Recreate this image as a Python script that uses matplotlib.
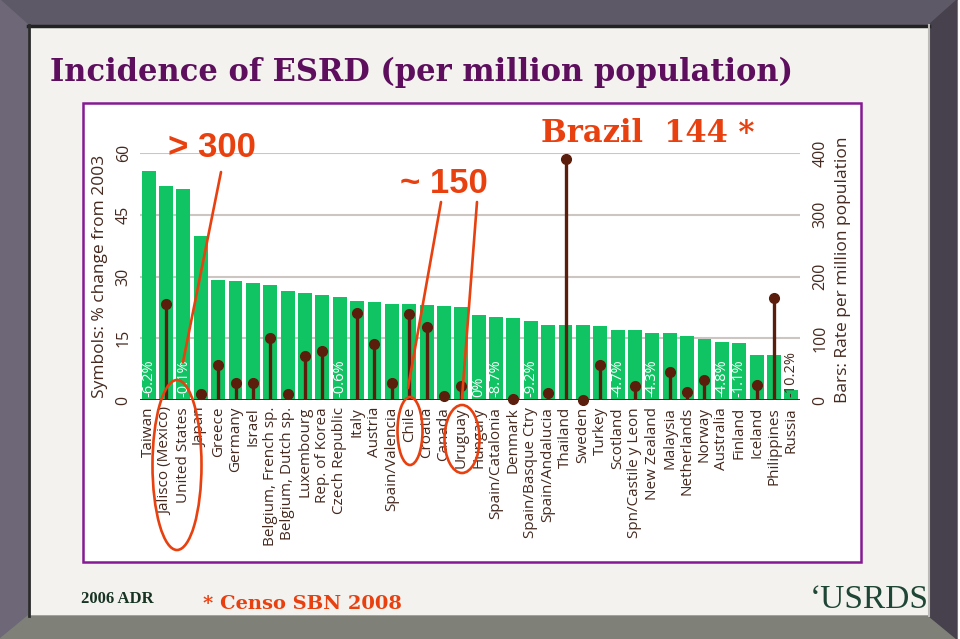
import matplotlib
matplotlib.use("Agg")
import matplotlib.pyplot as plt
from matplotlib.patches import Polygon, Rectangle, Ellipse
import numpy as np

# ---------------- data ----------------
categories = ["Taiwan", "Jalisco (Mexico)", "United States", "Japan", "Greece", "Germany",
              "Israel", "Belgium, French sp.", "Belgium, Dutch sp.", "Luxembourg",
              "Rep. of Korea", "Czech Republic", "Italy", "Austria", "Spain/Valencia",
              "Chile", "Croatia", "Canada", "Uruguay", "Hungary", "Spain/Catalonia",
              "Denmark", "Spain/Basque Ctry", "Spain/Andalucia", "Thailand", "Sweden",
              "Turkey", "Scotland", "Spn/Castile y Leon", "New Zealand", "Malaysia",
              "Netherlands", "Norway", "Australia", "Finland", "Iceland", "Philippines",
              "Russia"]
rate = [371, 346, 342, 265, 194, 193, 190, 186, 176, 173, 170, 166, 160, 158, 156, 156,
        154, 153, 150, 138, 135, 132, 128, 122, 121, 121, 120, 113, 113, 109, 108, 103,
        99, 94, 93, 73, 73, 16]
change = [-6.2, 23.2, -0.1, 1.4, 8.6, 4.1, 4.1, 15.1, 1.5, 10.8, 11.9, -0.6, 21.2, 13.7,
          4.1, 21.0, 17.7, 1.0, 3.4, 0.0, -8.7, 0.2, -9.2, 1.6, 58.6, 0.1, 8.6, -4.7, 3.3,
          -4.3, 6.8, 1.9, 4.9, -4.8, -1.1, 3.6, 24.7, -10.2]
rate_ticks = [0, 100, 200, 300, 400]
change_ticks = [0, 15, 30, 45, 60]

title = "Incidence of ESRD (per million population)"
left_label = "Symbols: % change from 2003"
right_label = "Bars: Rate per million population"

# ---------------- style ----------------
GREEN = "#10c464"
BROWN = "#5b1e0c"
TXT = "#45291f"
RED = "#e8400f"
PURPLE = "#5d0f5e"
W, H = 960, 639

fig = plt.figure(figsize=(9.6, 6.39), dpi=100)
fig.patch.set_facecolor("white")

def fx(p):
    return p / W

def fy(p):
    return 1 - p / H

# background / frame
bg = fig.add_axes([0, 0, 1, 1], zorder=0)
bg.set_xlim(0, W)
bg.set_ylim(H, 0)
bg.axis("off")
bg.add_patch(Rectangle((0, 0), 957, 639, color="#f3f2ef"))
bg.add_patch(Polygon([(0, 0), (957, 0), (929, 25), (28, 25)], closed=True, color="#5e5966"))
bg.add_patch(Polygon([(0, 0), (28, 25), (28, 616), (0, 639)], closed=True, color="#6d6777"))
bg.add_patch(Polygon([(0, 639), (28, 616), (929, 616), (957, 639)], closed=True, color="#7f8179"))
bg.add_patch(Polygon([(957, 0), (929, 25), (929, 616), (957, 639)], closed=True, color="#46414c"))
bg.plot([28, 929], [25.5, 25.5], color="#222222", lw=2.5)
bg.plot([28.5, 28.5], [25, 616], color="#2a2a2a", lw=2.0)
bg.plot([929, 929], [25, 616], color="#bdbbb8", lw=1.5)
bg.add_patch(Rectangle((83, 103), 778, 459, facecolor="white", edgecolor="#851a93", lw=1.8))

# bars axis (right scale)
ax = fig.add_axes([fx(140), fy(400), 660 / W, 247 / H], zorder=2)
ax.patch.set_alpha(0)
xs = np.arange(len(categories))
ax.bar(xs, rate, width=0.8, color=GREEN, zorder=2)
ax.set_xlim(-0.5, len(categories) - 0.5)
ax.set_ylim(0, 400)
ax.grid(axis="y", color="#cdc5c1", lw=1.5)
ax.set_axisbelow(True)
for s in ax.spines.values():
    s.set_visible(False)
ax.set_xticks(xs)
ax.set_xticklabels(categories, rotation=90, fontsize=11, color=TXT, family="Open Sans")
ax.tick_params(axis="x", length=0, pad=5)
ax.axhline(0, color="#3a1c10", lw=2, zorder=3)

# symbols axis (left scale)
ax2 = ax.twinx()
ax2.set_zorder(3)
ax2.patch.set_alpha(0)
ax2.set_ylim(0, 60)
for s in ax2.spines.values():
    s.set_visible(False)

# tick placement (after twinx, which resets sides)
ax.yaxis.tick_right()
ax.set_yticks(rate_ticks)
ax.tick_params(axis="y", length=0, pad=9, labelsize=11.5, labelcolor=TXT)
for lb in ax.get_yticklabels():
    lb.set_rotation(90)
    lb.set_va("center")
    lb.set_family("Open Sans")

ax2.yaxis.tick_left()
ax2.set_yticks(change_ticks)
ax2.tick_params(axis="y", length=0, pad=6, labelsize=11.5, labelcolor=TXT)
for lb in ax2.get_yticklabels():
    lb.set_rotation(90)
    lb.set_va("center")
    lb.set_family("Open Sans")

for i, (v, r) in enumerate(zip(change, rate)):
    if v > 0:
        ax2.vlines(i, 0, v, color=BROWN, lw=2.4, zorder=4)
        ax2.plot(i, v, "o", ms=7, color=BROWN, zorder=5, clip_on=False)
    else:
        ax2.annotate(f"{v:g}%", (i, 0), xytext=(0, 2), textcoords="offset points",
                     rotation=90, ha="center", va="bottom", fontsize=10.5,
                     family="Open Sans", color="white" if r > 60 else TXT, zorder=5)

# overlay
ov = fig.add_axes([0, 0, 1, 1], zorder=10)
ov.set_xlim(0, W)
ov.set_ylim(H, 0)
ov.axis("off")
ov.patch.set_alpha(0)

ov.text(50, 81, title, fontsize=22, fontweight="bold", family="DejaVu Serif",
        color=PURPLE, va="baseline", ha="left")
ov.text(100, 276, left_label, rotation=90, ha="center", va="center",
        fontsize=12.5, color=TXT, family="Open Sans")
ov.text(843, 270, right_label, rotation=90, ha="center", va="center",
        fontsize=12.5, color=TXT, family="Open Sans")

ov.text(168, 157, "> 300", fontsize=25, fontweight="bold", family="Liberation Sans",
        color=RED, va="baseline", ha="left")
ov.text(400, 193, "~ 150", fontsize=25, fontweight="bold", family="Liberation Sans",
        color=RED, va="baseline", ha="left")
ov.text(541, 142, "Brazil  144 *", fontsize=22, fontweight="bold", family="DejaVu Serif",
        color=RED, va="baseline", ha="left")

for (x0, y0, x1, y1) in [(221, 172, 183, 362), (441, 202, 408, 388), (477, 202, 462, 398)]:
    ov.plot([x0, x1], [y0, y1], color=RED, lw=1.9, solid_capstyle="round")
for (cx, cy, w, h) in [(177, 465, 49, 170), (410, 431, 25, 68), (462, 439, 35, 68)]:
    ov.add_patch(Ellipse((cx, cy), w, h, fill=False, edgecolor=RED, lw=1.9))

ov.text(81, 603, "2006 ADR", fontsize=12, fontweight="bold", family="Liberation Serif",
        color="#173322", va="baseline", ha="left")
ov.text(203, 609, "* Censo SBN 2008", fontsize=14, fontweight="bold", family="DejaVu Serif",
        color=RED, va="baseline", ha="left")
ov.text(810, 608, "\u2018USRDS", fontsize=24, family="Liberation Serif",
        color="#1e4535", va="baseline", ha="left")

fig.savefig("out.png", dpi=100)
